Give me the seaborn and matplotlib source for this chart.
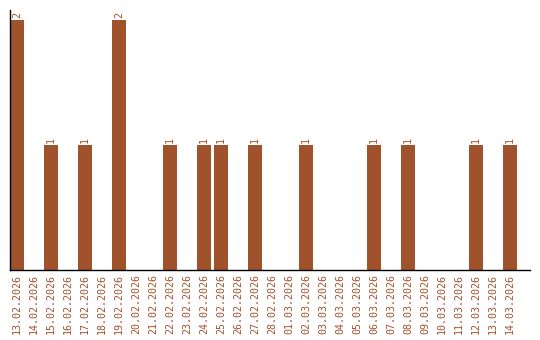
import matplotlib
matplotlib.use("Agg")
import matplotlib.pyplot as plt
import seaborn as sns
import pandas as pd

dates = ["13.02.2026", "14.02.2026", "15.02.2026", "16.02.2026", "17.02.2026",
         "18.02.2026", "19.02.2026", "20.02.2026", "21.02.2026", "22.02.2026",
         "23.02.2026", "24.02.2026", "25.02.2026", "26.02.2026", "27.02.2026",
         "28.02.2026", "01.03.2026", "02.03.2026", "03.03.2026", "04.03.2026",
         "05.03.2026", "06.03.2026", "07.03.2026", "08.03.2026", "09.03.2026",
         "10.03.2026", "11.03.2026", "12.03.2026", "13.03.2026", "14.03.2026"]
counts = [2, 0, 1, 0, 1, 0, 2, 0, 0, 1,
          0, 1, 1, 0, 1, 0, 0, 1, 0, 0,
          0, 1, 0, 1, 0, 0, 0, 1, 0, 1]

df = pd.DataFrame({"date": dates, "count": counts})

sns.set_style("white")
color = "#A0522D"
fig = plt.figure(figsize=(5.4, 3.4), dpi=100)
ax = fig.add_axes([10/540, 70/340, 520/540, 260/340])
sns.barplot(data=df, x="date", y="count", color=color, width=0.8,
            saturation=1, linewidth=0, ax=ax)

ax.set_xlim(-0.4, 30.16)
ax.set_ylim(0, 2.08)
ax.set_xlabel("")
ax.set_ylabel("")
ax.set_yticks([])
for s in ["top", "right"]:
    ax.spines[s].set_visible(False)
for s in ["left", "bottom"]:
    ax.spines[s].set_color("black")
    ax.spines[s].set_linewidth(1.0)
ax.tick_params(axis="x", length=0, pad=3)
ax.set_xticks(range(len(dates)))
ax.set_xticklabels(dates, rotation=90, fontsize=7.2, family="DejaVu Sans Mono",
                   color=color)

for i, v in enumerate(counts):
    if v > 0:
        ax.text(i, v + 0.02, str(v), rotation=90, ha="center", va="bottom",
                fontsize=7.2, family="DejaVu Sans Mono", color=color)

fig.savefig("out.png", dpi=100)
